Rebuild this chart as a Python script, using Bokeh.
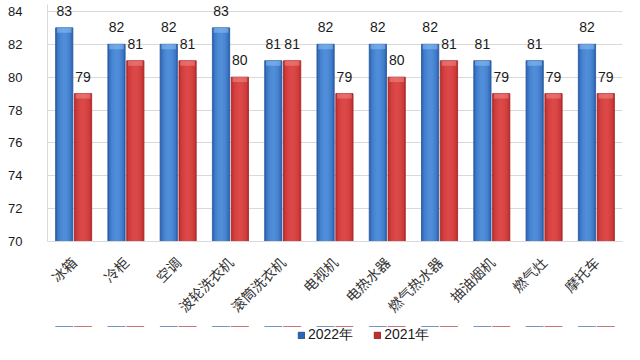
import math
from bokeh.plotting import figure
from bokeh.layouts import column
from bokeh.models import ColumnDataSource, FactorRange, Range1d, FixedTicker, Legend, LegendItem
from bokeh.transform import dodge
from bokeh.core.properties import value
from bokeh.embed import file_html
from bokeh.resources import INLINE

categories = ["冰箱", "冷柜", "空调", "波轮洗衣机", "滚筒洗衣机", "电视机",
              "电热水器", "燃气热水器", "抽油烟机", "燃气灶", "摩托车"]
values_2022 = [83, 82, 82, 83, 81, 82, 82, 82, 81, 81, 82]
values_2021 = [79, 81, 81, 80, 81, 79, 80, 81, 79, 79, 79]
series_names = ["2022年", "2021年"]
y_ticks = [70, 72, 74, 76, 78, 80, 82, 84]

BASE = 70
src = ColumnDataSource(dict(
    cat=categories,
    v22=values_2022,
    v21=values_2021,
    t22=[str(v) for v in values_2022],
    t21=[str(v) for v in values_2021],
    c22=[v - 0.3 for v in values_2022],
    c21=[v - 0.3 for v in values_2021],
))

p = figure(width=624, height=326, output_backend="svg", toolbar_location=None,
           x_range=FactorRange(factors=categories), y_range=Range1d(70, 84.42),
           min_border_left=47, min_border_right=2, min_border_top=4, min_border_bottom=85)
p.outline_line_color = None
p.background_fill_color = "white"
p.border_fill_color = "white"

OFF = 0.18
W = 0.33
series = [
    ("v22", "t22", "c22", -OFF, "#2d66b6", "#245396", "#5d9be6", "#8cc0f2"),
    ("v21", "t21", "c21", OFF, "#c22e2d", "#9c2222", "#e65452", "#f08a88"),
]
for col, tcol, ccol, off, base_c, line_c, hi_c, cap_c in series:
    xd = dodge("cat", off, range=p.x_range)
    p.vbar(x=xd, top=col, bottom=BASE, width=W, source=src,
           fill_color=base_c, line_color=line_c, line_width=0.8)
    for wf, a in [(0.28, 0.30), (0.22, 0.30), (0.15, 0.30), (0.08, 0.25)]:
        p.vbar(x=xd, top=col, bottom=BASE, width=wf, source=src,
               fill_color=hi_c, fill_alpha=a, line_color=None)
    p.vbar(x=xd, top=col, bottom=ccol, width=W * 0.85, source=src,
           fill_color=cap_c, fill_alpha=0.55, line_color=None)
    p.text(x=xd, y=col, text=tcol, source=src, text_align="center",
           text_baseline="alphabetic", y_offset=-17,
           text_font=value("Liberation Sans"), text_font_size="14px",
           text_color="#1a1a1a")

p.yaxis.ticker = FixedTicker(ticks=y_ticks)
p.yaxis.axis_line_color = "#d9d9d9"
p.yaxis.major_tick_line_color = None
p.yaxis.minor_tick_line_color = None
p.yaxis.major_label_text_font = "Liberation Sans"
p.yaxis.major_label_text_font_size = "13px"
p.yaxis.major_label_text_color = "#1a1a1a"
p.yaxis.major_label_standoff = 19

p.xaxis.axis_line_color = "#d9d9d9"
p.xaxis.major_tick_line_color = None
p.xaxis.minor_tick_line_color = None
p.xaxis.major_label_orientation = math.pi / 4
p.xaxis.major_label_text_font = "Noto Sans CJK SC"
p.xaxis.major_label_text_font_size = "14px"
p.xaxis.major_label_text_color = "#333333"
p.xaxis.major_label_standoff = 12

p.xgrid.grid_line_color = None
p.ygrid.grid_line_color = "#d9d9d9"
p.ygrid.ticker = FixedTicker(ticks=y_ticks)

# Separate strip holding the legend, below the chart
lg = figure(width=624, height=18, output_backend="svg", toolbar_location=None,
            x_range=FactorRange(factors=categories), y_range=Range1d(0, 1),
            x_axis_type=None, y_axis_type=None,
            min_border_left=0, min_border_right=0, min_border_top=0, min_border_bottom=0)
lg.outline_line_color = None
lg.xgrid.grid_line_color = None
lg.ygrid.grid_line_color = None
leg_rs = []
for col, tcol, ccol, off, base_c, line_c, hi_c, cap_c in series:
    leg_rs.append(lg.vbar(x=dodge("cat", off, range=lg.x_range), top=col, bottom=BASE,
                          width=W, source=src, fill_color=base_c, line_color=line_c))

legend = Legend(items=[LegendItem(label=series_names[i], renderers=[leg_rs[i]])
                       for i in range(2)],
                orientation="horizontal", location=(250, 0),
                label_text_font="Liberation Sans", label_text_font_size="14px",
                label_text_color="#1a1a1a",
                glyph_width=8, glyph_height=8, label_standoff=3, spacing=20,
                border_line_color=None, background_fill_alpha=0,
                padding=1, margin=0)
lg.add_layout(legend)

layout = column(p, lg, spacing=0)
open("out.html", "w").write(file_html(layout, INLINE))
